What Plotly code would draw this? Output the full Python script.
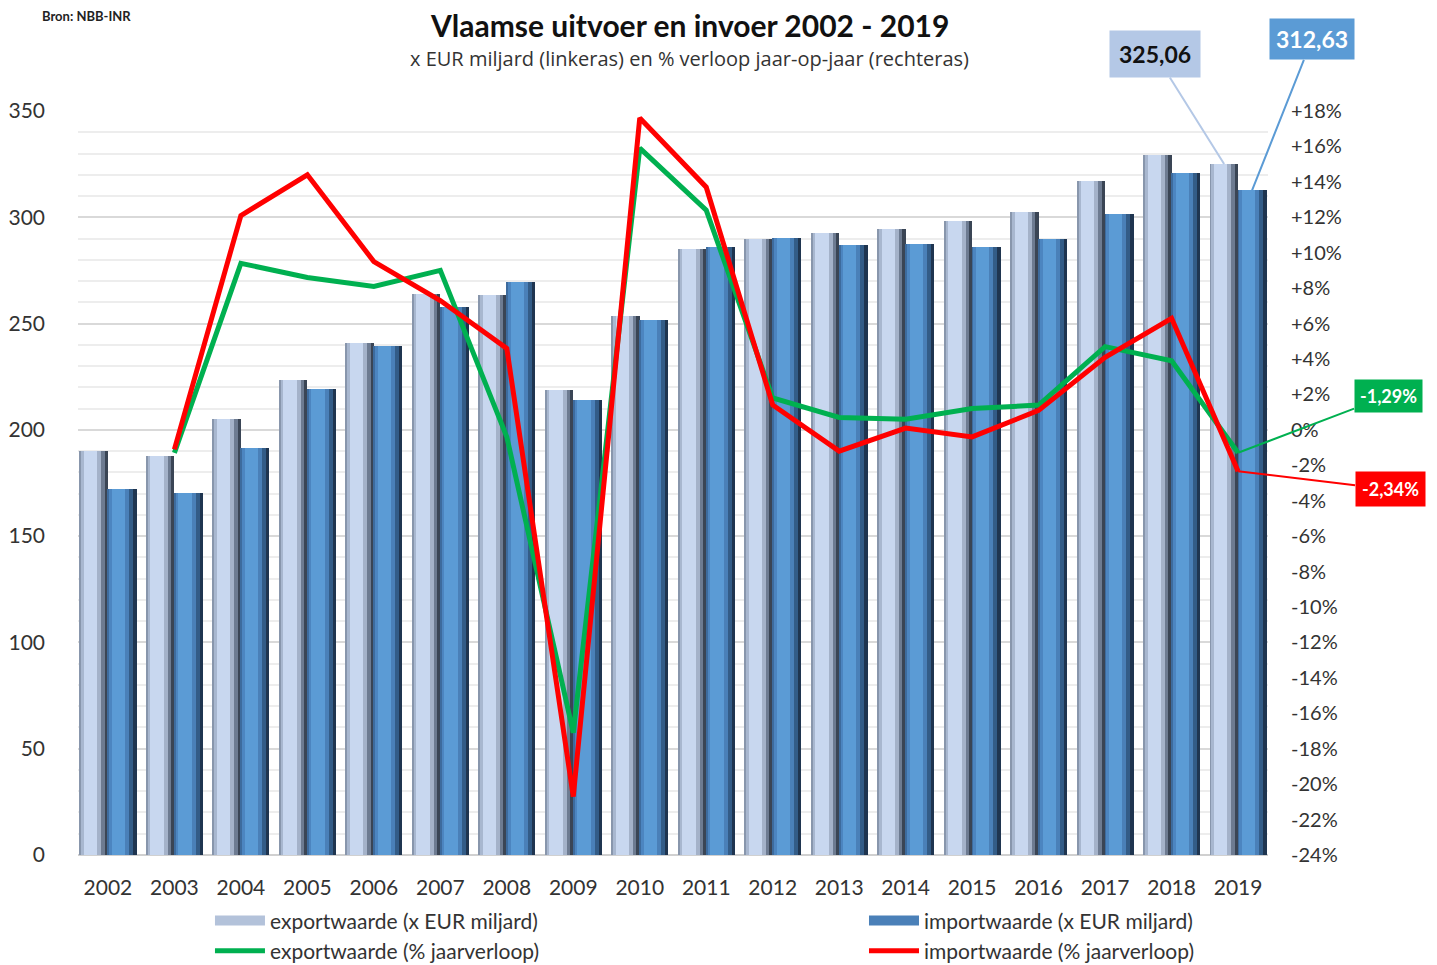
import plotly.graph_objs as go

years = ["2002", "2003", "2004", "2005", "2006", "2007", "2008", "2009", "2010",
         "2011", "2012", "2013", "2014", "2015", "2016", "2017", "2018", "2019"]

export_value = [190.0, 187.7, 205.0, 223.5, 241.0, 264.0, 263.4, 218.8, 253.6,
                285.0, 290.0, 292.6, 294.5, 298.3, 302.5, 317.0, 329.3, 325.06]
import_value = [172.0, 170.3, 191.5, 219.0, 239.5, 258.0, 269.5, 214.0, 251.7,
                286.0, 290.3, 287.0, 287.4, 286.0, 289.8, 301.5, 320.8, 312.63]

# year-on-year change (%), no value for the first year
export_pct = [None, -1.3, 9.4, 8.6, 8.1, 9.0, -0.4, -17.1, 15.9,
              12.4, 1.8, 0.7, 0.6, 1.2, 1.4, 4.7, 3.9, -1.29]
import_pct = [None, -1.1, 12.1, 14.4, 9.5, 7.3, 4.6, -20.7, 17.6,
              13.7, 1.4, -1.2, 0.1, -0.4, 1.1, 4.1, 6.3, -2.34]

pct_tickvals = [18, 16, 14, 12, 10, 8, 6, 4, 2, 0, -2, -4, -6, -8, -10,
                -12, -14, -16, -18, -20, -22, -24]
pct_ticktext = ["+18%", "+16%", "+14%", "+12%", "+10%", "+8%", "+6%", "+4%", "+2%", "0%",
                "-2%", "-4%", "-6%", "-8%", "-10%", "-12%", "-14%", "-16%", "-18%",
                "-20%", "-22%", "-24%"]

FONT = "Lato"
TXT = "#333333"

# vertical bands to fake the cylinder shading of the bars: (start, end, colour)
export_bands = [(-0.42, -0.40, "#8896ac"), (-0.40, -0.36, "#a8b7cf"), (-0.36, -0.16, "#c8d7ef"),
                (-0.16, -0.10, "#a4b2c9"), (-0.10, -0.05, "#6d7b91"), (-0.05, 0.0, "#3a4555")]
import_bands = [(0.0, 0.02, "#3d6b9d"), (0.02, 0.06, "#4c85c0"), (0.06, 0.26, "#5b9bd5"),
                (0.26, 0.32, "#4a80b8"), (0.32, 0.38, "#335c87"), (0.38, 0.43, "#1f3550")]

fig = go.Figure()

for vals, bands in [(export_value, export_bands), (import_value, import_bands)]:
    for a, b, col in bands:
        fig.add_trace(go.Bar(x=years, y=vals, offset=a, width=b - a,
                             marker=dict(color=col, line=dict(width=0)),
                             showlegend=False, hoverinfo="skip"))

# legend-only entries so the bar swatches look like wide bars
fig.add_trace(go.Scatter(x=[None], y=[None], mode="lines", line=dict(color="#b3c2da", width=10),
                         name="exportwaarde (x EUR miljard)", legend="legend", legendrank=1))
fig.add_trace(go.Scatter(x=[None], y=[None], mode="lines", line=dict(color="#4a80b8", width=10),
                         name="importwaarde (x EUR miljard)", legend="legend2", legendrank=1))

fig.add_trace(go.Scatter(x=years, y=export_pct, mode="lines", yaxis="y2",
                         line=dict(color="#00b050", width=5),
                         name="exportwaarde (% jaarverloop)", legend="legend", legendrank=2))
fig.add_trace(go.Scatter(x=years, y=import_pct, mode="lines", yaxis="y2",
                         line=dict(color="#ff0000", width=5),
                         name="importwaarde (% jaarverloop)", legend="legend2", legendrank=2))

annos = [
    dict(x=0.514, y=1.1156, xref="paper", yref="paper", showarrow=False, yanchor="middle",
         text="<b>Vlaamse uitvoer en invoer 2002 - 2019</b>", font=dict(size=30, color="#111")),
    dict(x=0.514, y=1.0712, xref="paper", yref="paper", showarrow=False, yanchor="middle",
         text="x EUR miljard (linkeras) en % verloop jaar-op-jaar (rechteras)",
         font=dict(family="Open Sans", size=20, color=TXT)),
    dict(x=-0.032, y=1.128, xref="paper", yref="paper", showarrow=False, xanchor="left",
         yanchor="middle", text="<b>Bron: NBB-INR</b>", font=dict(size=13, color="#222")),
    dict(x=16.79, y=export_value[-1], xref="x", yref="y", text="<b>325,06</b>",
         ax=-69, ay=-110, showarrow=True, arrowhead=0, arrowwidth=2, arrowcolor="#b4c8e6",
         bgcolor="#b4c8e6", borderpad=9, font=dict(size=23, color="#111")),
    dict(x=17.21, y=import_value[-1], xref="x", yref="y", text="<b>312,63</b>",
         ax=60, ay=-151, showarrow=True, arrowhead=0, arrowwidth=2, arrowcolor="#5b9bd5",
         bgcolor="#5b9bd5", borderpad=6, font=dict(size=23, color="white")),
    dict(x=17, y=export_pct[-1], xref="x", yref="y2", text="<b>-1,29%</b>",
         ax=150, ay=-57, showarrow=True, arrowhead=0, arrowwidth=2, arrowcolor="#00b050",
         bgcolor="#00b050", borderpad=5, font=dict(size=18, color="white")),
    dict(x=17, y=import_pct[-1], xref="x", yref="y2", text="<b>-2,34%</b>",
         ax=152, ay=18, showarrow=True, arrowhead=0, arrowwidth=2, arrowcolor="#ff0000",
         bgcolor="#ff0000", borderpad=6, font=dict(size=18, color="white")),
]

legend_style = dict(orientation="v", y=-0.061, yanchor="top", itemwidth=50,
                    font=dict(size=21, color=TXT), tracegroupgap=0, bgcolor="rgba(0,0,0,0)")

fig.update_layout(
    width=1437, height=965,
    # the page adds an 8px body margin, so the plot area is shifted to compensate
    margin=dict(l=70, r=177, t=103, b=118, autoexpand=False),
    paper_bgcolor="white", plot_bgcolor="white",
    font=dict(family=FONT, size=20, color=TXT),
    barmode="overlay", bargap=0,
    xaxis=dict(type="category", range=[-0.45, 17.45], showgrid=False, ticks="",
               tickfont=dict(size=21, color=TXT), showline=False, zeroline=False,
               ticklabelstandoff=18, automargin=False),
    yaxis=dict(range=[0, 350], dtick=50, showgrid=True, gridcolor="#d9d9d9", gridwidth=2,
               minor=dict(dtick=10, showgrid=True, gridcolor="#ededed", gridwidth=2),
               zeroline=True, zerolinecolor="#d0d0d0", zerolinewidth=2,
               ticklabelstandoff=32, tickfont=dict(size=21, color=TXT), automargin=False),
    yaxis2=dict(range=[-24, 18], overlaying="y", side="right", showgrid=False, zeroline=False,
                tickvals=pct_tickvals, ticktext=pct_ticktext, ticklabelstandoff=22,
                tickfont=dict(size=20, color=TXT), automargin=False),
    legend=dict(x=0.1109, xanchor="left", **legend_style),
    legend2=dict(x=0.6605, xanchor="left", **legend_style),
    annotations=annos,
    showlegend=True,
)

fig.write_html("out.html")
